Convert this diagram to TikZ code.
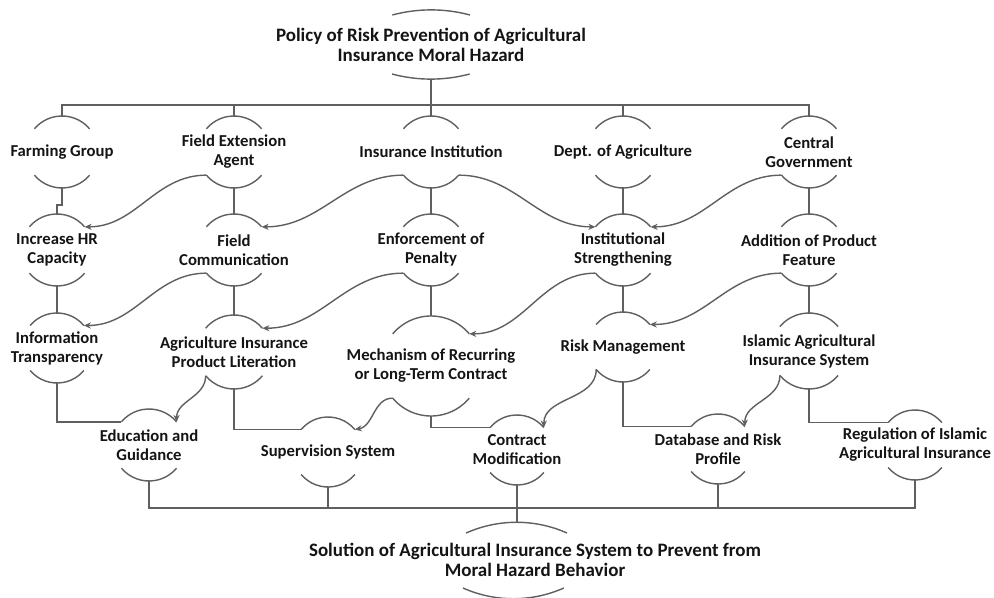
\documentclass[tikz,border=0pt]{standalone}
\usepackage{fontspec}
\setmainfont{Carlito}
\usetikzlibrary{arrows.meta}
\definecolor{lncol}{RGB}{95,95,95}
\definecolor{txt}{RGB}{20,20,20}

\begin{document}
\begin{tikzpicture}[x=0.02cm,y=0.02cm,
  lbl/.style={font=\fontsize{9.5}{10.8}\selectfont\bfseries,text=txt,align=center,inner sep=0pt},
  ttl/.style={lbl,font=\fontsize{10.8}{11.4}\selectfont\bfseries},
  ln/.style={draw=lncol,line width=0.8pt},
  arr/.style={ln,-{Stealth[length=4pt,width=3.5pt]}}]
\useasboundingbox (0,0) rectangle (994,-598);
\node[ttl] (top) at (431,-45) {Policy of Risk Prevention of Agricultural\\Insurance Moral Hazard};
\node[lbl] (fg) at (62,-152) {Farming Group};
\node[lbl] (fea) at (234,-152) {Field Extension\\Agent};
\node[lbl] (ii) at (431,-152) {Insurance Institution};
\node[lbl] (da) at (623,-152) {Dept. of Agriculture};
\node[lbl] (cg) at (809,-152) {Central\\Government};
\node[lbl] (hr) at (57,-250) {Increase HR\\Capacity};
\node[lbl] (fc) at (234,-250) {Field\\Communication};
\node[lbl] (ep) at (431,-250) {Enforcement of\\Penalty};
\node[lbl] (is) at (623,-250) {Institutional\\Strengthening};
\node[lbl] (apf) at (809,-250) {Addition of Product\\Feature};
\node[lbl] (it) at (57,-348) {Information\\Transparency};
\node[lbl] (aipl) at (234,-352) {Agriculture Insurance\\Product Literation};
\node[lbl] (mrc) at (431,-366) {Mechanism of Recurring\\or Long-Term Contract};
\node[lbl] (rm) at (623,-347) {Risk Management};
\node[lbl] (iais) at (809,-351) {Islamic Agricultural\\Insurance System};
\node[lbl] (eg) at (149,-445) {Education and\\Guidance};
\node[lbl] (sup) at (328,-452) {Supervision System};
\node[lbl] (cm) at (517,-450) {Contract\\Modification};
\node[lbl] (drp) at (718,-449) {Database and Risk\\Profile};
\node[lbl] (ria) at (915,-445) {Regulation of Islamic\\Agricultural Insurance};
\node[ttl] (sol) at (535,-560) {Solution of Agricultural Insurance System to Prevent from\\Moral Hazard Behavior};
\foreach \n/\r in {fg/36,fea/36,ii/36,da/36,cg/36,hr/36,fc/36,ep/36,is/36,apf/36,
  it/35,aipl/37,mrc/50,rm/35,iais/38,eg/36,sup/35,cm/35,drp/35,ria/35}{
  \draw[ln] ([shift={(40:\r)}]\n.center) arc[start angle=40,end angle=140,radius=\r];
  \draw[ln] ([shift={(220:\r)}]\n.center) arc[start angle=220,end angle=320,radius=\r];
  \coordinate (\n-t) at ([shift={(90:\r)}]\n.center);
  \coordinate (\n-b) at ([shift={(270:\r)}]\n.center);
  \coordinate (\n-tl) at ([shift={(140:\r)}]\n.center);
  \coordinate (\n-tr) at ([shift={(40:\r)}]\n.center);
  \coordinate (\n-bl) at ([shift={(220:\r)}]\n.center);
  \coordinate (\n-br) at ([shift={(320:\r)}]\n.center);
}
\draw[ln] ([shift={(39,30)}]top.center) arc[start angle=75,end angle=105,radius=150];
\draw[ln] ([shift={(-39,-29)}]top.center) arc[start angle=255,end angle=285,radius=150];
\coordinate (top-b) at ([shift={(0,-34)}]top.center);
\draw[ln] ([shift={(32,27)}]sol.center) arc[start angle=66,end angle=114,radius=124];
\draw[ln] ([shift={(-72,-28)}]sol.center) arc[start angle=246,end angle=294,radius=124];
\coordinate (sol-t) at ([shift={(-18,38)}]sol.center);
\coordinate (bus1) at (431,-105);
\coordinate (bus2) at (517,-508);
\draw[ln] (top-b) -- (ii-t);
\draw[ln] (fg-t) |- (bus1) -| (cg-t);
\draw[ln] (fea-t) -- (fea-t |- bus1);
\draw[ln] (da-t) -- (da-t |- bus1);
\draw[ln] (fg-b) -- ++(0,-17) -| (hr-t);
\draw[ln] (fea-b) -- (fc-t);
\draw[ln] (ii-b) -- (ep-t);
\draw[ln] (da-b) -- (is-t);
\draw[ln] (cg-b) -- (apf-t);
\draw[ln] (hr-b) -- (it-t);
\draw[ln] (fc-b) -- (aipl-t);
\draw[ln] (ep-b) -- (mrc-t);
\draw[ln] (is-b) -- (rm-t);
\draw[ln] (apf-b) -- (iais-t);
\draw[arr] (fea-bl) to[out=180,in=0] (hr-tr);
\draw[arr] (ii-bl) to[out=180,in=0] (fc-tr);
\draw[arr] (ii-br) to[out=0,in=180] (is-tl);
\draw[arr] (cg-bl) to[out=180,in=0] (is-tr);
\draw[arr] (fc-bl) to[out=180,in=0] (it-tr);
\draw[arr] (ep-bl) to[out=180,in=0] (aipl-tr);
\draw[arr] (is-bl) to[out=180,in=0] (mrc-tr);
\draw[arr] (apf-bl) to[out=180,in=0] (rm-tr);
\draw[arr] (aipl-bl) to[out=-90,in=90] (eg-tr);
\draw[arr] (mrc-bl) to[out=180,in=10] (sup-tr);
\draw[arr] (rm-bl) to[out=-90,in=90] (cm-tr);
\draw[arr] (iais-bl) to[out=-90,in=90] (drp-tr);
\draw[ln] (it-b) |- (eg-tl);
\draw[ln] (aipl-b) |- (sup-tl);
\draw[ln] (mrc-b) |- (cm-tl);
\draw[ln] (rm-b) |- (drp-tl);
\draw[ln] (iais-b) |- (ria-tl);
\draw[ln] (eg-b) |- (bus2) -| (ria-b);
\draw[ln] (sup-b) -- (sup-b |- bus2);
\draw[ln] (drp-b) -- (drp-b |- bus2);
\draw[ln] (cm-b) -- (sol-t);
\end{tikzpicture}
\end{document}
